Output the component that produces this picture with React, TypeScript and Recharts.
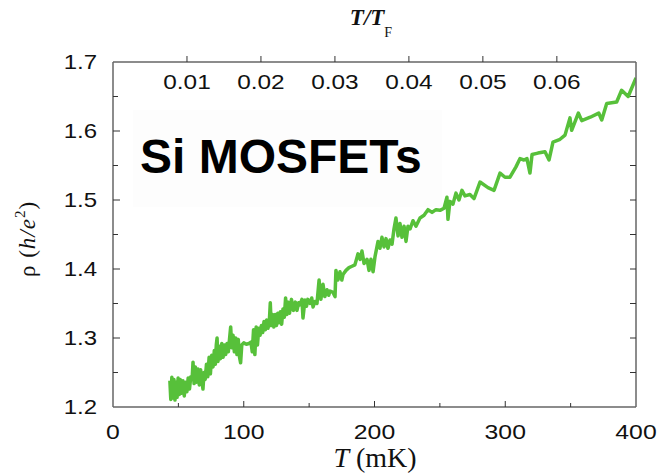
import React from 'react';
import { LineChart, Line, XAxis, YAxis } from 'recharts';

const T_MK = [
  43.5, 44.2, 45.0, 45.8, 46.6, 47.4, 48.2, 49.0, 49.8, 50.6, 51.4, 52.5, 53.5, 54.5, 55.5, 56.5, 57.5, 58.5, 59.5, 60.5,
  61.2, 62.0, 63.0, 64.0, 65.0, 66.0, 67.0, 68.0, 68.8, 69.6, 70.5, 71.5, 72.5, 73.5, 74.5, 75.5, 76.5, 77.5, 78.3, 79.0,
  79.6, 80.3, 81.2, 82.2, 83.2, 84.2, 85.2, 86.2, 87.2, 88.2, 89.2, 90.0, 90.8, 91.8, 92.8, 93.8, 94.8, 95.8, 96.8, 97.6,
  98.5, 100, 102, 104, 105.5, 106.5, 107.5, 108.5, 109.5, 110.5, 111.5, 112.5, 113.5, 114.5, 115.5, 116.5, 117.5, 118.5, 119.5, 120.3,
  121.0, 122.0, 123.0, 124.0, 125.0, 126.0, 127.0, 128.0, 129.0, 130.0, 131.0, 132.0, 133.0, 134.0, 135.0,
  136.5, 138, 139.5, 140.7, 142, 143, 144.5, 145.3, 146.8, 148, 149, 150.7, 152, 153, 154.5, 156, 157.6, 159, 160.6, 162,
  163.7, 165, 166, 168.3, 169.8, 170.5, 172, 173.6, 175, 175.9, 178.2, 180.5, 182.8, 185, 187.4, 189, 190.4, 192, 194.3, 195.8,
  197.3, 198.9, 200.4, 202.7, 204.2, 205.7, 207.3, 208.8, 210.3, 211.9, 213.4, 214.9, 216.4, 218, 219.5, 221, 222.6, 224.1, 225.6, 227.2,
  229.4, 231.7, 234.8, 237.9, 240.9, 244, 247, 250.1, 253.2, 255.4, 256.2, 257.7, 260, 262.3, 264.6, 266.9, 269.2, 273, 276.1, 280.7,
  286.8, 291.4, 296, 299.8, 303.6, 308.2, 311.3, 314.3, 316.6, 318.9, 320.5, 325, 330.4, 333.5, 336.5, 341.9, 345.7, 349.5, 350.8, 355.9,
  358.5, 365, 371.5, 373.8, 377.6, 385.2, 389, 394, 400,
];

const RHO = [
  1.238, 1.211, 1.243, 1.213, 1.240, 1.210, 1.236, 1.214, 1.242, 1.218, 1.240, 1.220, 1.238, 1.216, 1.236, 1.222, 1.242, 1.226, 1.244, 1.240,
  1.265, 1.234, 1.258, 1.236, 1.255, 1.232, 1.254, 1.238, 1.226, 1.250, 1.240, 1.262, 1.244, 1.272, 1.248, 1.275, 1.258, 1.282, 1.262, 1.290,
  1.300, 1.266, 1.288, 1.270, 1.292, 1.272, 1.290, 1.276, 1.292, 1.280, 1.300, 1.316, 1.286, 1.304, 1.280, 1.300, 1.276, 1.298, 1.272, 1.264,
  1.290, 1.293, 1.291, 1.292, 1.294, 1.280, 1.312, 1.276, 1.316, 1.290, 1.314, 1.304, 1.318, 1.308, 1.324, 1.312, 1.326, 1.314, 1.322, 1.351,
  1.318, 1.334, 1.316, 1.334, 1.318, 1.336, 1.322, 1.338, 1.320, 1.342, 1.330, 1.358, 1.334, 1.352, 1.336,
  1.356, 1.340, 1.352, 1.340, 1.351, 1.348, 1.356, 1.329, 1.355, 1.346, 1.356, 1.350, 1.358, 1.345, 1.353, 1.350, 1.384, 1.356, 1.378, 1.360,
  1.370, 1.362, 1.368, 1.366, 1.360, 1.398, 1.384, 1.396, 1.384, 1.392, 1.398, 1.402, 1.404, 1.406, 1.422, 1.414, 1.426, 1.408, 1.414, 1.398,
  1.414, 1.396, 1.418, 1.440, 1.430, 1.446, 1.432, 1.444, 1.430, 1.442, 1.436, 1.458, 1.474, 1.448, 1.466, 1.446, 1.462, 1.440, 1.462, 1.458,
  1.470, 1.462, 1.474, 1.478, 1.486, 1.482, 1.486, 1.485, 1.488, 1.504, 1.472, 1.498, 1.494, 1.510, 1.500, 1.514, 1.506, 1.508, 1.502, 1.526,
  1.518, 1.514, 1.539, 1.533, 1.533, 1.548, 1.560, 1.558, 1.560, 1.539, 1.566, 1.568, 1.570, 1.558, 1.584, 1.588, 1.594, 1.619, 1.601, 1.626,
  1.615, 1.620, 1.626, 1.616, 1.640, 1.642, 1.659, 1.650, 1.677,
];

const X_TICKS = [0, 50, 100, 150, 200, 250, 300, 350, 400];
const X_LABELS = [0, 100, 200, 300, 400];
const Y_TICKS = [1.2, 1.25, 1.3, 1.35, 1.4, 1.45, 1.5, 1.55, 1.6, 1.65, 1.7];
const TOP_TICKS = [0.01, 0.02, 0.03, 0.04, 0.05, 0.06];
const TOP_LABELS = ['0.01', '0.02', '0.03', '0.04', '0.05', '0.06'];
const TOP_MAX = 0.0707;

const data = T_MK.map((t, i) => ({ t, rho: RHO[i], tf: (t / 400) * TOP_MAX }));

const SANS = '"Liberation Sans", Arial, Helvetica, sans-serif';
const SERIF = '"Liberation Serif", "Times New Roman", serif';
const TICK_COLOR = '#333';
const AXIS_COLOR = '#666';

const isMajorY = (v: number) => Math.abs(v * 10 - Math.round(v * 10)) < 1e-6;

const WideText = ({ x, y, anchor, size, sx, children }: any) => (
  <text
    transform={`translate(${x},${y}) scale(${sx},1)`}
    x={0}
    y={0}
    textAnchor={anchor}
    fontFamily={SANS}
    fontSize={size}
    fill="#111"
  >
    {children}
  </text>
);

const BottomTick = (props: any) => {
  const { x, y, payload } = props;
  const v = payload.value;
  const major = X_LABELS.includes(v);
  return (
    <g>
      {v !== 0 && v !== 400 && (
        <line x1={x} x2={x} y1={y} y2={y - (major ? 6 : 4)} stroke={TICK_COLOR} strokeWidth={1} />
      )}
      {major && (
        <WideText x={x} y={y + 32} anchor="middle" size={21} sx={1.18}>
          {String(v)}
        </WideText>
      )}
    </g>
  );
};

const LeftTick = (props: any) => {
  const { x, y, payload } = props;
  const v = payload.value;
  const major = isMajorY(v);
  return (
    <g>
      {v > 1.2001 && v < 1.6999 && (
        <line x1={x} x2={x + (major ? 7 : 5)} y1={y} y2={y} stroke={TICK_COLOR} strokeWidth={1} />
      )}
      {major && (
        <WideText x={x - 16} y={y + 7} anchor="end" size={20} sx={1.2}>
          {v.toFixed(1)}
        </WideText>
      )}
    </g>
  );
};

const RightTick = (props: any) => {
  const { x, y, payload } = props;
  const v = payload.value;
  return (
    <g>
      {v > 1.2001 && v < 1.6999 && <line x1={x} x2={x - 6} y1={y} y2={y} stroke={TICK_COLOR} strokeWidth={1} />}
    </g>
  );
};

const TopTick = (props: any) => {
  const { x, y, payload, index } = props;
  return (
    <g>
      <line x1={x} x2={x} y1={y} y2={y - 6} stroke={TICK_COLOR} strokeWidth={1} />
      <WideText x={x} y={y + 27} anchor="middle" size={20} sx={1.22}>
        {TOP_LABELS[index] ?? String(payload.value)}
      </WideText>
    </g>
  );
};

export default function App() {
  return (
    <div style={{ position: 'absolute', left: 0, top: 0, width: 659, height: 474, background: '#fff' }}>
      <LineChart
        width={659}
        height={474}
        data={data}
        margin={{ top: 42, right: 13, bottom: 37, left: 53 }}
      >
        <rect x={133} y={110} width={309} height={97} fill="#fdfdfd" />
        <text x={140} y={173} fontFamily={SANS} fontWeight="bold" fontSize={48} fill="#000">
          Si MOSFETs
        </text>
        <XAxis
          xAxisId="b"
          dataKey="t"
          type="number"
          domain={[0, 400]}
          ticks={X_TICKS}
          interval={0}
          height={30}
          tickSize={0}
          tickMargin={0}
          tickLine={false}
          axisLine={{ stroke: AXIS_COLOR, strokeWidth: 1.5 }}
          tick={<BottomTick />}
          allowDataOverflow
        />
        <XAxis
          xAxisId="top"
          dataKey="tf"
          orientation="top"
          type="number"
          domain={[0, TOP_MAX]}
          ticks={TOP_TICKS}
          interval={0}
          height={20}
          tickSize={0}
          tickMargin={0}
          tickLine={false}
          axisLine={{ stroke: AXIS_COLOR, strokeWidth: 1.5 }}
          tick={<TopTick />}
          allowDataOverflow
        />
        <YAxis
          yAxisId="l"
          type="number"
          domain={[1.2, 1.7]}
          ticks={Y_TICKS}
          interval={0}
          width={60}
          tickSize={0}
          tickMargin={0}
          tickLine={false}
          axisLine={{ stroke: AXIS_COLOR, strokeWidth: 1.5 }}
          tick={<LeftTick />}
          allowDataOverflow
        />
        <YAxis
          yAxisId="r"
          orientation="right"
          type="number"
          domain={[1.2, 1.7]}
          ticks={Y_TICKS}
          interval={0}
          width={10}
          tickSize={0}
          tickMargin={0}
          tickLine={false}
          axisLine={{ stroke: AXIS_COLOR, strokeWidth: 1.5 }}
          tick={<RightTick />}
          allowDataOverflow
        />
        <Line
          xAxisId="b"
          yAxisId="l"
          dataKey="rho"
          type="linear"
          stroke="#57c03a"
          strokeWidth={3.5}
          strokeLinejoin="round"
          dot={false}
          isAnimationActive={false}
        />
        <Line
          xAxisId="top"
          yAxisId="r"
          dataKey="rho"
          type="linear"
          stroke="none"
          strokeWidth={0}
          dot={false}
          activeDot={false}
          legendType="none"
          isAnimationActive={false}
        />
        <text x={371} y={25} textAnchor="middle" fontFamily={SERIF} fontSize={23} fontWeight="bold" fill="#111">
          <tspan fontStyle="italic">T</tspan>
          <tspan fontStyle="italic">/</tspan>
          <tspan fontStyle="italic">T</tspan>
          <tspan fontSize={14} fontWeight="normal" dy={12}>F</tspan>
        </text>
        <text x={375} y={467} textAnchor="middle" fontFamily={SERIF} fontSize={28} fill="#111">
          <tspan fontStyle="italic">T</tspan>
          <tspan> (mK)</tspan>
        </text>
        <text
          transform="translate(35,239) rotate(-90)"
          textAnchor="middle"
          fontFamily={SERIF}
          fontSize={23}
          letterSpacing={1}
          fill="#111"
        >
          <tspan>ρ (</tspan>
          <tspan fontStyle="italic">h</tspan>
          <tspan fontStyle="italic">/</tspan>
          <tspan fontStyle="italic">e</tspan>
          <tspan fontSize={15} dy={-10}>2</tspan>
          <tspan dy={10}>)</tspan>
        </text>
      </LineChart>
    </div>
  );
}
